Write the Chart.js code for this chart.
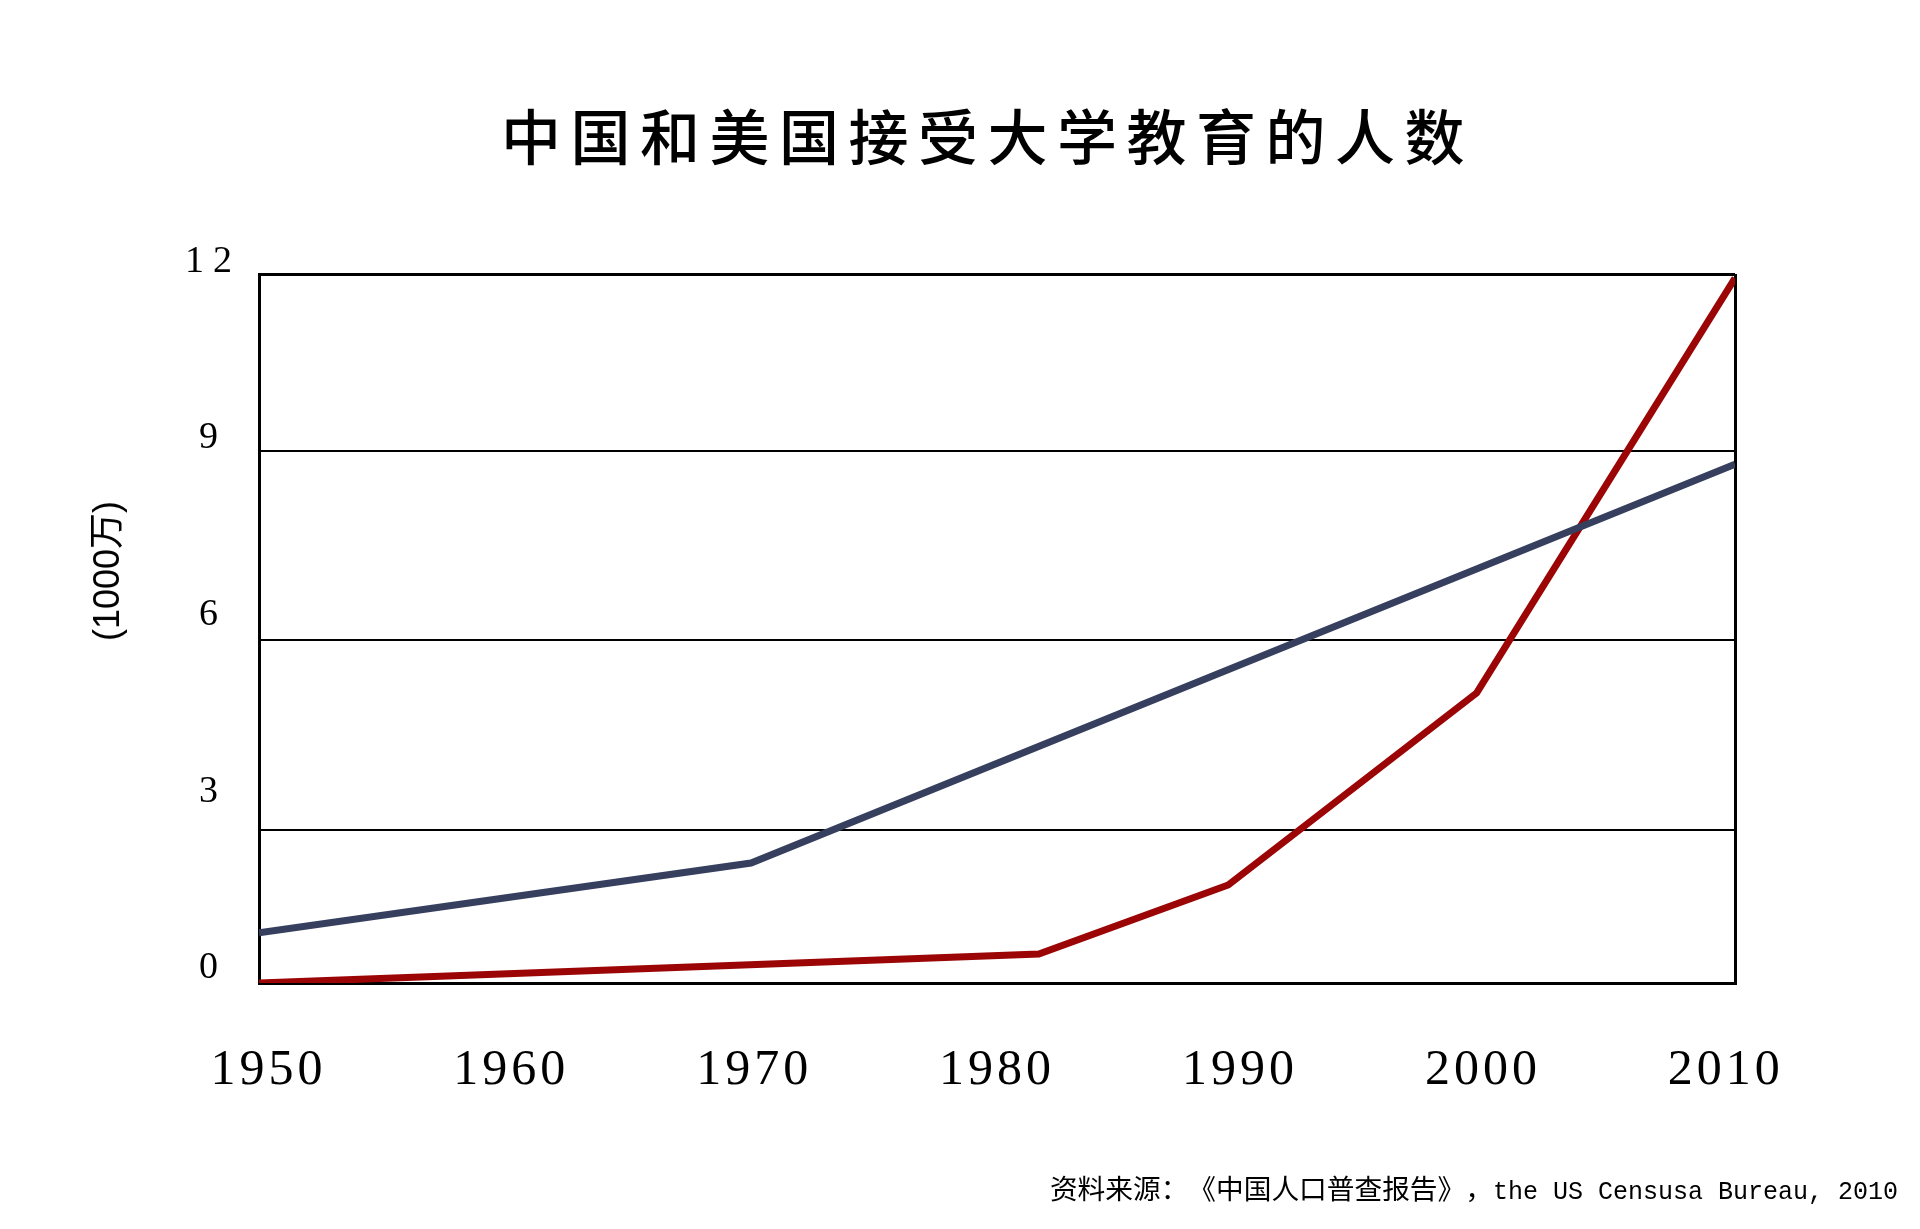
<!DOCTYPE html>
<html lang="zh">
<head>
<meta charset="utf-8">
<title>中国和美国接受大学教育的人数</title>
<script src="https://cdn.jsdelivr.net/npm/chart.js@4.4.1/dist/chart.umd.min.js"></script>
<style>
  html, body { margin: 0; padding: 0; background: #fff; }
  #wrap { position: relative; width: 1920px; height: 1229px; overflow: hidden; background: #fff; }
  #chart { position: absolute; left: 0; top: 0; }
  .title {
    position: absolute; left: 501px; top: 104px;
    font: 500 60px/60px "Noto Sans CJK SC", sans-serif;
    letter-spacing: 9.5px; white-space: nowrap; color: #000;
  }
  .ytitle {
    position: absolute; left: 107px; top: 571px;
    transform: translate(-50%, -50%) rotate(-90deg);
    font: 36px/36px "Liberation Sans", "Noto Sans CJK SC", sans-serif;
    white-space: nowrap; color: #000;
  }
  .source {
    position: absolute; right: 22px; top: 1167px;
    line-height: 32px; white-space: nowrap; color: #000;
    text-spacing-trim: space-all;
  }
  .source .cjk { font: 27.7px "Noto Sans CJK SC", sans-serif; }
  .source .lat { font: 25px "Liberation Mono", monospace; }
</style>
</head>
<body>
<div id="wrap">
  <canvas id="chart" width="1920" height="1229"></canvas>
  <div class="title">中国和美国接受大学教育的人数</div>
  <div class="ytitle">(1000万)</div>
  <div class="source"><span class="cjk">资料来源：《中国人口普查报告》，</span><span class="lat">the US Censusa Bureau, 2010</span></div>
</div>
<script>
// tick labels
const yearTicks = [1950, 1960, 1970, 1980, 1990, 2000, 2010];
const valueTicks = [0, 3, 6, 9, 12];
// horizontal rules as drawn in the source (they are not evenly spaced)
const gridValues = [0, 2.59, 5.8, 9.01, 12];

// blue line (1000万)
const usYears = [1950, 1970, 2010];
const usValues = [0.85, 2.03, 8.78];

// red line (1000万)
const chinaYears = [1950, 1981.7, 1989.4, 1999.5, 2010];
const chinaValues = [0, 0.49, 1.66, 4.91, 11.93];

const toPoints = (xs, ys) => xs.map((x, i) => ({ x: x, y: ys[i] }));
const asTicks = values => values.map(v => ({ value: v }));

// fixes the box size of a scale, and optionally draws its labels letter-spaced
function fixSize(prop, size, spacing) {
  return scale => {
    scale[prop] = size;
    scale.paddingLeft = scale.paddingRight = scale.paddingTop = scale.paddingBottom = 0;
    if (spacing && !scale._spaced) {
      const base = Object.getPrototypeOf(scale).drawLabels;
      scale.drawLabels = function (area) {
        this.ctx.save();
        this.ctx.letterSpacing = spacing;
        base.call(this, area);
        this.ctx.restore();
      };
      scale._spaced = true;
    }
  };
}

Chart.defaults.color = '#000';

new Chart(document.getElementById('chart'), {
  type: 'line',
  data: {
    datasets: [
      {
        label: '美国',
        data: toPoints(usYears, usValues),
        borderColor: '#363f5e',
        borderWidth: 7,
        pointRadius: 0,
        tension: 0,
        xAxisID: 'x',
        yAxisID: 'y'
      },
      {
        label: '中国',
        data: toPoints(chinaYears, chinaValues),
        borderColor: '#9c0505',
        borderWidth: 7,
        pointRadius: 0,
        tension: 0,
        xAxisID: 'x',
        yAxisID: 'y'
      }
    ]
  },
  options: {
    responsive: false,
    devicePixelRatio: 1,
    animation: false,
    layout: { autoPadding: false, padding: { left: 0, top: 274, right: 185, bottom: 0 } },
    plugins: { legend: { display: false }, tooltip: { enabled: false } },
    scales: {
      x: {
        type: 'linear',
        position: 'bottom',
        min: 1950,
        max: 2010,
        weight: 0,
        afterBuildTicks: s => { s.ticks = asTicks(yearTicks); },
        afterFit: fixSize('height', 0),
        ticks: { display: false },
        grid: {
          drawTicks: false,
          color: c => (c.tick && c.tick.value === 2010 ? '#000' : 'rgba(0,0,0,0)'),
          lineWidth: 3
        },
        border: { display: true, color: '#000', width: 3 }
      },
      xLabels: {
        type: 'linear',
        position: 'bottom',
        min: 1949.61,
        max: 2010.38,
        weight: 1,
        afterBuildTicks: s => { s.ticks = asTicks(yearTicks); },
        afterFit: fixSize('height', 246, '4px'),
        ticks: {
          autoSkip: false,
          maxRotation: 0,
          padding: 58,
          font: { family: '"Liberation Serif", "Times New Roman", serif', size: 50 },
          callback: v => String(v)
        },
        grid: { display: false, drawTicks: false },
        border: { display: false }
      },
      y: {
        type: 'linear',
        position: 'left',
        min: 0,
        max: 12,
        weight: 0,
        afterBuildTicks: s => { s.ticks = asTicks(gridValues); },
        afterFit: fixSize('width', 0),
        ticks: { display: false },
        grid: {
          drawTicks: false,
          color: '#000',
          lineWidth: c => (c.tick && c.tick.value === 12 ? 3 : 2)
        },
        border: { display: true, color: '#000', width: 3 }
      },
      yLabels: {
        type: 'linear',
        position: 'left',
        min: -0.25,
        max: 11.79,
        weight: 1,
        afterBuildTicks: s => { s.ticks = asTicks(valueTicks); },
        afterFit: fixSize('width', 259, '9px'),
        ticks: {
          autoSkip: false,
          crossAlign: 'center',
          padding: 27,
          font: { family: '"Liberation Serif", "Times New Roman", serif', size: 38 },
          callback: v => String(v)
        },
        grid: { display: false, drawTicks: false },
        border: { display: false }
      }
    }
  }
});
</script>
</body>
</html>
